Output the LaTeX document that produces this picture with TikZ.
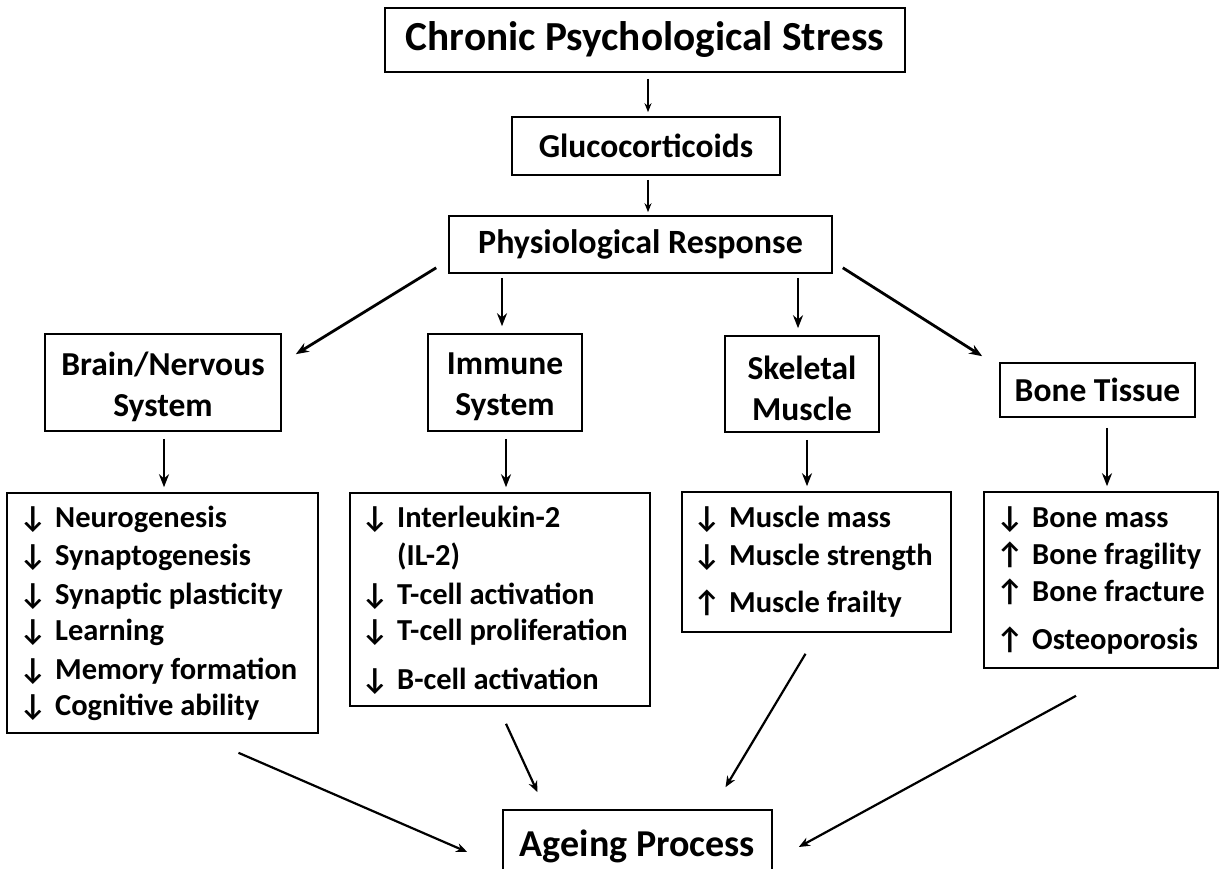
\documentclass[tikz,border=0pt]{standalone}
\usepackage{fontspec}
\setmainfont{Carlito}
\usetikzlibrary{arrows.meta,calc}
\newcommand\dnar{\makebox[36pt][l]{↓}}
\newcommand\upar{\makebox[36pt][l]{↑}}
\begin{document}
\begin{tikzpicture}[x=1pt,y=-1pt,
  box/.style={draw, line width=1.6pt, inner sep=0pt, align=center,
    font=\bfseries\fontsize{33.5}{41}\selectfont},
  listbox/.style={draw, line width=1.6pt, inner sep=0pt},
  item/.style={anchor=west, inner sep=0pt, text height=22pt, text depth=7pt,
    font=\bfseries\fontsize{30.5}{36}\selectfont},
  thinarr/.style={line width=1.4pt, -{Stealth[length=9pt,width=7pt]}},
  midarr/.style={line width=2.2pt, -{Stealth[length=11pt,width=9pt]}},
  thickarr/.style={line width=2.8pt, -{Stealth[length=13pt,width=10pt]}}
]
\useasboundingbox (0,0) rectangle (1225,869);
\fill[white] (0,0) rectangle (1225,869);

% top chain
\node[box, minimum width=520pt, minimum height=64pt, font=\bfseries\fontsize{41.3}{48}\selectfont] (cps) at (645,40) {Chronic Psychological Stress};
\node[box, minimum width=268pt, minimum height=58pt, font=\bfseries\fontsize{33.5}{40}\selectfont] (gluco) at (646,146) {Glucocorticoids};
\node[box, minimum width=383pt, minimum height=57pt, font=\bfseries\fontsize{34}{40}\selectfont] (phys) at (640.5,244.5) {Physiological Response};

% second level
\node[box, minimum width=236pt, minimum height=97pt] (brain) at (163,382.5) {\parbox{230pt}{\centering\vspace*{8pt}Brain/Nervous\\System}};
\node[box, minimum width=154pt, minimum height=97pt] (imm) at (505,382.5) {\parbox{150pt}{\centering\vspace*{8pt}Immune\\System}};
\node[box, minimum width=154pt, minimum height=96pt] (skel) at (802,384) {\parbox{150pt}{\centering\vspace*{8pt}Skeletal\\Muscle}};
\node[box, minimum width=195pt, minimum height=54pt] (bone) at (1097.5,390) {Bone Tissue};

% list boxes
\node[listbox, minimum width=311pt, minimum height=240pt] (brainL) at (162.5,613) {};
\node[listbox, minimum width=300pt, minimum height=213pt] (immL) at (500,599.5) {};
\node[listbox, minimum width=269pt, minimum height=140pt] (musL) at (816.5,562) {};
\node[listbox, minimum width=234pt, minimum height=176pt] (boneL) at (1101,580) {};

% ageing
\node[box, minimum width=269pt, minimum height=72pt, font=\bfseries\fontsize{38}{44}\selectfont] (age) at (637.5,846) {Ageing Process};

% list items
\node[item] (b1) at (19,520) {\dnar Neurogenesis};
\node[item] (b2) at (19,558) {\dnar Synaptogenesis};
\node[item] (b3) at (19,597) {\dnar Synaptic plasticity};
\node[item] (b4) at (19,633) {\dnar Learning};
\node[item] (b5) at (19,672) {\dnar Memory formation};
\node[item] (b6) at (19,708) {\dnar Cognitive ability};

\node[item] (i1) at (361,520) {\dnar Interleukin-2};
\node[item] (i2) at (397,558) {(IL-2)};
\node[item] (i3) at (361,597) {\dnar T-cell activation};
\node[item] (i4) at (361,633) {\dnar T-cell proliferation};
\node[item] (i5) at (361,682) {\dnar B-cell activation};

\node[item] (m1) at (693,520) {\dnar Muscle mass};
\node[item] (m2) at (693,558) {\dnar Muscle strength};
\node[item] (m3) at (693,605) {\upar Muscle frailty};

\node[item] (o1) at (996,520) {\dnar Bone mass};
\node[item] (o2) at (996,557) {\upar Bone fragility};
\node[item] (o3) at (996,594) {\upar Bone fracture};
\node[item] (o4) at (996,642) {\upar Osteoporosis};

% connectors
\draw[thinarr] ($(cps.south)+(3,6)$) -- ($(gluco.north)+(2,-4)$);
\draw[thinarr] ($(gluco.south)+(2,4)$) -- ($(phys.north)+(7.5,-3)$);

\draw[thickarr] ($(phys.south west)+(-12,-6)$) -- ($(brain.north east)+(14,21)$);
\draw[thickarr] ($(phys.south -| imm.north)+(-3,4)$) -- ($(imm.north)+(-3,-7)$);
\draw[thickarr] ($(phys.south -| skel.north)+(-4,4)$) -- ($(skel.north)+(-4,-7)$);
\draw[thickarr] ($(phys.south east)+(10,-6)$) -- ($(bone.north west)+(-17,-6)$);

\draw[thickarr] ($(brain.south)+(1,7)$) -- ($(brain.south |- brainL.north)+(1,-5)$);
\draw[thickarr] ($(imm.south)+(1,7)$) -- ($(imm.south |- immL.north)+(1,-5)$);
\draw[thickarr] ($(skel.south)+(5,7)$) -- ($(skel.south |- musL.north)+(5,-5)$);
\draw[thickarr] ($(bone.south)+(9.5,10)$) -- ($(boneL.north)+(6,-5)$);

\draw[midarr] ($(brainL.south)+(76,19)$) -- ($(age.west)+(-35,6)$);
\draw[midarr] ($(immL.south)+(6,17)$) -- ($(age.north)+(-100,-17)$);
\draw[midarr] ($(musL.south)+(-11,21)$) -- ($(age.north)+(88,-22)$);
\draw[midarr] ($(boneL.south)+(-25,27)$) -- ($(age.east)+(26,1)$);
\end{tikzpicture}
\end{document}
